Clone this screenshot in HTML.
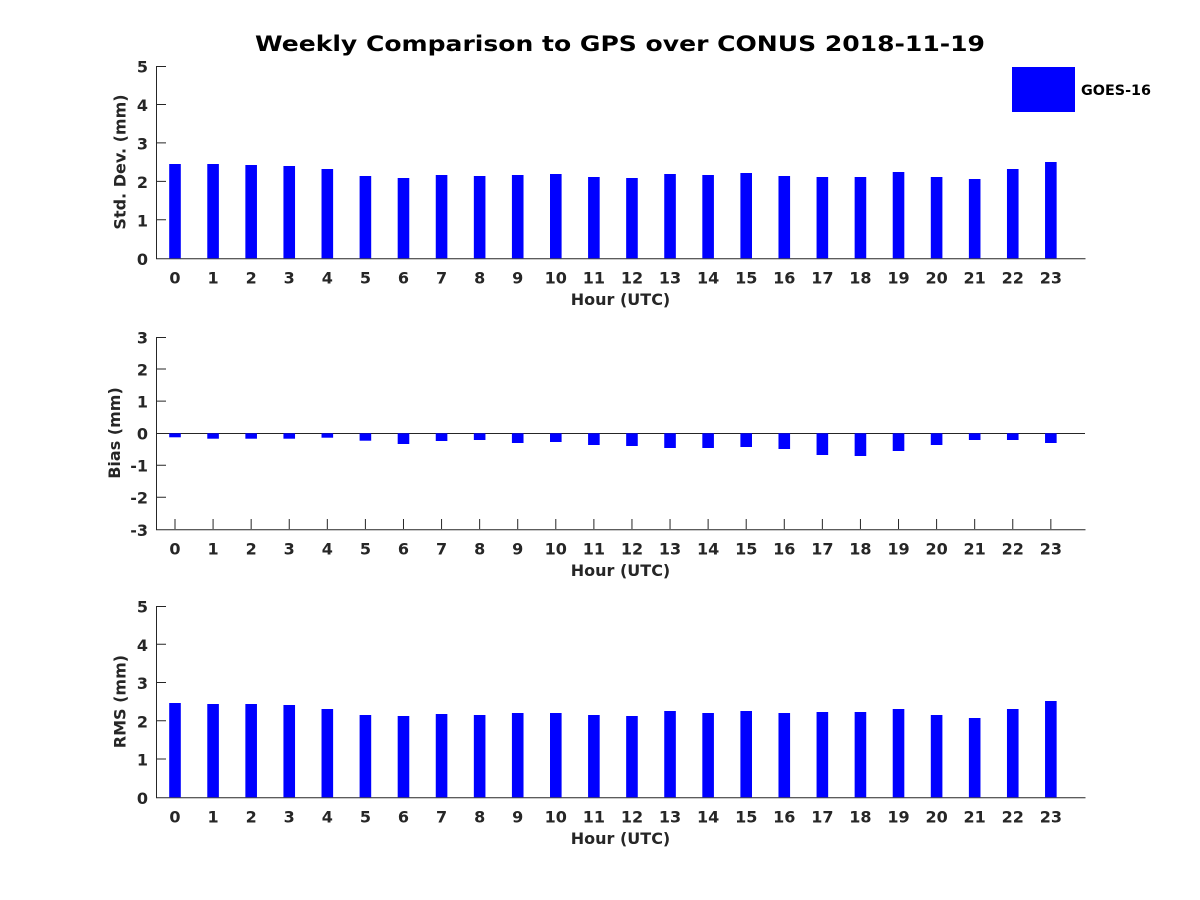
<!DOCTYPE html>
<html>
<head>
<meta charset="utf-8">
<style>
html,body{margin:0;padding:0;background:#fff;}
svg{display:block;}
text{font-family:"DejaVu Sans","Liberation Sans",sans-serif;font-weight:bold;}
</style>
</head>
<body>
<svg width="1200" height="900" viewBox="0 0 1200 900" xmlns="http://www.w3.org/2000/svg">
<rect width="1200" height="900" fill="#fff"/>

<!-- Title -->
<text x="620" y="51" text-anchor="middle" font-size="21" fill="#000" textLength="730" lengthAdjust="spacingAndGlyphs">Weekly Comparison to GPS over CONUS 2018-11-19</text>

<!-- Legend -->
<rect x="1012" y="67" width="63" height="45" fill="#0000ff"/>
<text x="1081" y="95" font-size="14.5" fill="#000" textLength="70" lengthAdjust="spacingAndGlyphs">GOES-16</text>

<!-- ===== Plot 1: Std Dev ===== -->
<g stroke="#262626" stroke-width="1" fill="none">
<path d="M156.5 66 V258.8 H1085.5"/>
<path d="M156 219.8 H166 M156 181.4 H166 M156 142.9 H166 M156 104.5 H166 M156 66.5 H166"/>
</g>
<g fill="#0000ff">
<rect x="169.2" y="164" width="11.6" height="94.3"/>
<rect x="207.28" y="164" width="11.6" height="94.3"/>
<rect x="245.36" y="165" width="11.6" height="93.3"/>
<rect x="283.44" y="166" width="11.6" height="92.3"/>
<rect x="321.52" y="169" width="11.6" height="89.3"/>
<rect x="359.6" y="176" width="11.6" height="82.3"/>
<rect x="397.68" y="178" width="11.6" height="80.3"/>
<rect x="435.76" y="175" width="11.6" height="83.3"/>
<rect x="473.84" y="176" width="11.6" height="82.3"/>
<rect x="511.92" y="175" width="11.6" height="83.3"/>
<rect x="550.0" y="174" width="11.6" height="84.3"/>
<rect x="588.08" y="177" width="11.6" height="81.3"/>
<rect x="626.16" y="178" width="11.6" height="80.3"/>
<rect x="664.24" y="174" width="11.6" height="84.3"/>
<rect x="702.32" y="175" width="11.6" height="83.3"/>
<rect x="740.4" y="173" width="11.6" height="85.3"/>
<rect x="778.48" y="176" width="11.6" height="82.3"/>
<rect x="816.56" y="177" width="11.6" height="81.3"/>
<rect x="854.64" y="177" width="11.6" height="81.3"/>
<rect x="892.72" y="172" width="11.6" height="86.3"/>
<rect x="930.8" y="177" width="11.6" height="81.3"/>
<rect x="968.88" y="179" width="11.6" height="79.3"/>
<rect x="1006.96" y="169" width="11.6" height="89.3"/>
<rect x="1045.04" y="162" width="11.6" height="96.3"/>
</g>
<g font-size="16" fill="#262626" text-anchor="end">
<text x="148" y="264.8">0</text>
<text x="148" y="226.3">1</text>
<text x="148" y="187.9">2</text>
<text x="148" y="149.4">3</text>
<text x="148" y="111">4</text>
<text x="148" y="72.5">5</text>
</g>
<g font-size="16" fill="#262626" text-anchor="middle">
<text x="175" y="283.3">0</text>
<text x="213.08" y="283.3">1</text>
<text x="251.16" y="283.3">2</text>
<text x="289.24" y="283.3">3</text>
<text x="327.32" y="283.3">4</text>
<text x="365.4" y="283.3">5</text>
<text x="403.48" y="283.3">6</text>
<text x="441.56" y="283.3">7</text>
<text x="479.64" y="283.3">8</text>
<text x="517.72" y="283.3">9</text>
<text x="555.8" y="283.3">10</text>
<text x="593.88" y="283.3">11</text>
<text x="631.96" y="283.3">12</text>
<text x="670.04" y="283.3">13</text>
<text x="708.12" y="283.3">14</text>
<text x="746.2" y="283.3">15</text>
<text x="784.28" y="283.3">16</text>
<text x="822.36" y="283.3">17</text>
<text x="860.44" y="283.3">18</text>
<text x="898.52" y="283.3">19</text>
<text x="936.6" y="283.3">20</text>
<text x="974.68" y="283.3">21</text>
<text x="1012.76" y="283.3">22</text>
<text x="1050.84" y="283.3">23</text>
<text x="620.5" y="305">Hour (UTC)</text>
<text transform="translate(125.5,162) rotate(-90)">Std. Dev. (mm)</text>
</g>

<!-- ===== Plot 2: Bias ===== -->
<g stroke="#262626" stroke-width="1" fill="none">
<path d="M156.5 337 V529.8 H1085.5"/>
<path d="M156 369.05 H166 M156 401.1 H166 M156 465.2 H166 M156 497.25 H166 M156 337.5 H166"/>
<path d="M156 433.5 H1085"/>
<path d="M175 529 V519 M213.08 529 V519 M251.16 529 V519 M289.24 529 V519 M327.32 529 V519 M365.4 529 V519 M403.48 529 V519 M441.56 529 V519 M479.64 529 V519 M517.72 529 V519 M555.8 529 V519 M593.88 529 V519 M631.96 529 V519 M670.04 529 V519 M708.12 529 V519 M746.2 529 V519 M784.28 529 V519 M822.36 529 V519 M860.44 529 V519 M898.52 529 V519 M936.6 529 V519 M974.68 529 V519 M1012.76 529 V519 M1050.84 529 V519"/>
</g>
<g fill="#0000ff">
<rect x="169.2" y="433.3" width="11.6" height="4.0"/>
<rect x="207.28" y="433.3" width="11.6" height="5.4"/>
<rect x="245.36" y="433.3" width="11.6" height="5.4"/>
<rect x="283.44" y="433.3" width="11.6" height="5.4"/>
<rect x="321.52" y="433.3" width="11.6" height="4.4"/>
<rect x="359.6" y="433.3" width="11.6" height="7.4"/>
<rect x="397.68" y="433.3" width="11.6" height="10.7"/>
<rect x="435.76" y="433.3" width="11.6" height="7.7"/>
<rect x="473.84" y="433.3" width="11.6" height="6.7"/>
<rect x="511.92" y="433.3" width="11.6" height="9.7"/>
<rect x="550.0" y="433.3" width="11.6" height="8.7"/>
<rect x="588.08" y="433.3" width="11.6" height="11.7"/>
<rect x="626.16" y="433.3" width="11.6" height="12.7"/>
<rect x="664.24" y="433.3" width="11.6" height="14.7"/>
<rect x="702.32" y="433.3" width="11.6" height="14.7"/>
<rect x="740.4" y="433.3" width="11.6" height="13.7"/>
<rect x="778.48" y="433.3" width="11.6" height="15.7"/>
<rect x="816.56" y="433.3" width="11.6" height="21.7"/>
<rect x="854.64" y="433.3" width="11.6" height="22.7"/>
<rect x="892.72" y="433.3" width="11.6" height="17.7"/>
<rect x="930.8" y="433.3" width="11.6" height="11.7"/>
<rect x="968.88" y="433.3" width="11.6" height="6.7"/>
<rect x="1006.96" y="433.3" width="11.6" height="6.7"/>
<rect x="1045.04" y="433.3" width="11.6" height="9.7"/>
</g>
<g font-size="16" fill="#262626" text-anchor="end">
<text x="148" y="343.5">3</text>
<text x="148" y="375.5">2</text>
<text x="148" y="407.6">1</text>
<text x="148" y="439.6">0</text>
<text x="148" y="471.7">-1</text>
<text x="148" y="503.7">-2</text>
<text x="148" y="535.8">-3</text>
</g>
<g font-size="16" fill="#262626" text-anchor="middle">
<text x="175" y="554.3">0</text>
<text x="213.08" y="554.3">1</text>
<text x="251.16" y="554.3">2</text>
<text x="289.24" y="554.3">3</text>
<text x="327.32" y="554.3">4</text>
<text x="365.4" y="554.3">5</text>
<text x="403.48" y="554.3">6</text>
<text x="441.56" y="554.3">7</text>
<text x="479.64" y="554.3">8</text>
<text x="517.72" y="554.3">9</text>
<text x="555.8" y="554.3">10</text>
<text x="593.88" y="554.3">11</text>
<text x="631.96" y="554.3">12</text>
<text x="670.04" y="554.3">13</text>
<text x="708.12" y="554.3">14</text>
<text x="746.2" y="554.3">15</text>
<text x="784.28" y="554.3">16</text>
<text x="822.36" y="554.3">17</text>
<text x="860.44" y="554.3">18</text>
<text x="898.52" y="554.3">19</text>
<text x="936.6" y="554.3">20</text>
<text x="974.68" y="554.3">21</text>
<text x="1012.76" y="554.3">22</text>
<text x="1050.84" y="554.3">23</text>
<text x="620.5" y="576">Hour (UTC)</text>
<text transform="translate(120,433) rotate(-90)">Bias (mm)</text>
</g>

<!-- ===== Plot 3: RMS ===== -->
<g stroke="#262626" stroke-width="1" fill="none">
<path d="M156.5 606 V797.8 H1085.5"/>
<path d="M156 759 H166 M156 720.8 H166 M156 682.5 H166 M156 644.3 H166 M156 606.5 H166"/>
</g>
<g fill="#0000ff">
<rect x="169.2" y="703" width="11.6" height="94.3"/>
<rect x="207.28" y="704" width="11.6" height="93.3"/>
<rect x="245.36" y="704" width="11.6" height="93.3"/>
<rect x="283.44" y="705" width="11.6" height="92.3"/>
<rect x="321.52" y="709" width="11.6" height="88.3"/>
<rect x="359.6" y="715" width="11.6" height="82.3"/>
<rect x="397.68" y="716" width="11.6" height="81.3"/>
<rect x="435.76" y="714" width="11.6" height="83.3"/>
<rect x="473.84" y="715" width="11.6" height="82.3"/>
<rect x="511.92" y="713" width="11.6" height="84.3"/>
<rect x="550.0" y="713" width="11.6" height="84.3"/>
<rect x="588.08" y="715" width="11.6" height="82.3"/>
<rect x="626.16" y="716" width="11.6" height="81.3"/>
<rect x="664.24" y="711" width="11.6" height="86.3"/>
<rect x="702.32" y="713" width="11.6" height="84.3"/>
<rect x="740.4" y="711" width="11.6" height="86.3"/>
<rect x="778.48" y="713" width="11.6" height="84.3"/>
<rect x="816.56" y="712" width="11.6" height="85.3"/>
<rect x="854.64" y="712" width="11.6" height="85.3"/>
<rect x="892.72" y="709" width="11.6" height="88.3"/>
<rect x="930.8" y="715" width="11.6" height="82.3"/>
<rect x="968.88" y="718" width="11.6" height="79.3"/>
<rect x="1006.96" y="709" width="11.6" height="88.3"/>
<rect x="1045.04" y="701" width="11.6" height="96.3"/>
</g>
<g font-size="16" fill="#262626" text-anchor="end">
<text x="148" y="803.8">0</text>
<text x="148" y="765.5">1</text>
<text x="148" y="727.3">2</text>
<text x="148" y="689">3</text>
<text x="148" y="650.8">4</text>
<text x="148" y="612.5">5</text>
</g>
<g font-size="16" fill="#262626" text-anchor="middle">
<text x="175" y="822.3">0</text>
<text x="213.08" y="822.3">1</text>
<text x="251.16" y="822.3">2</text>
<text x="289.24" y="822.3">3</text>
<text x="327.32" y="822.3">4</text>
<text x="365.4" y="822.3">5</text>
<text x="403.48" y="822.3">6</text>
<text x="441.56" y="822.3">7</text>
<text x="479.64" y="822.3">8</text>
<text x="517.72" y="822.3">9</text>
<text x="555.8" y="822.3">10</text>
<text x="593.88" y="822.3">11</text>
<text x="631.96" y="822.3">12</text>
<text x="670.04" y="822.3">13</text>
<text x="708.12" y="822.3">14</text>
<text x="746.2" y="822.3">15</text>
<text x="784.28" y="822.3">16</text>
<text x="822.36" y="822.3">17</text>
<text x="860.44" y="822.3">18</text>
<text x="898.52" y="822.3">19</text>
<text x="936.6" y="822.3">20</text>
<text x="974.68" y="822.3">21</text>
<text x="1012.76" y="822.3">22</text>
<text x="1050.84" y="822.3">23</text>
<text x="620.5" y="844">Hour (UTC)</text>
<text transform="translate(125.5,701.6) rotate(-90)">RMS (mm)</text>
</g>
</svg>
</body>
</html>
